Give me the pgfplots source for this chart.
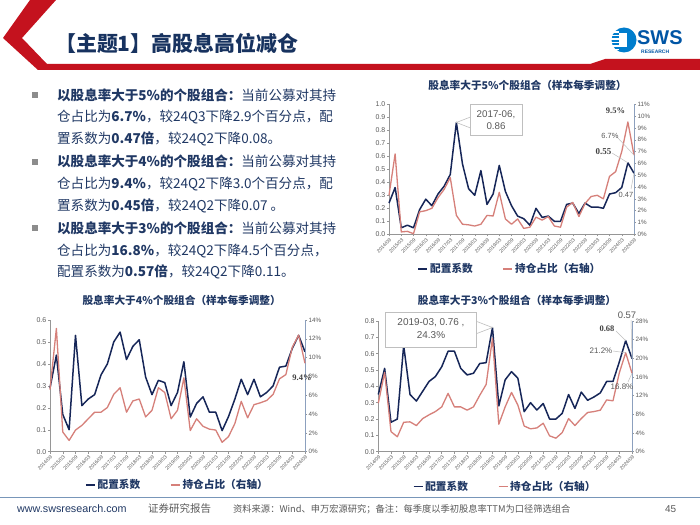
\documentclass[border=0pt]{standalone}
\usepackage{fontspec}
\setmainfont{Liberation Sans}
\newfontfamily\cjk{Noto Sans CJK SC}
\newfontfamily\serifb{Liberation Serif}
\usepackage{pgfplots}
\pgfplotsset{compat=1.18}
\usepackage{pgfplotstable}

\definecolor{swsred}{RGB}{196,18,30}
\definecolor{titlenavy}{RGB}{23,50,95}
\definecolor{textnavy}{RGB}{32,56,100}
\definecolor{navyl}{RGB}{22,38,88}
\definecolor{pinkl}{RGB}{214,128,122}
\definecolor{tickgray}{RGB}{89,89,89}
\definecolor{axgray}{RGB}{150,150,150}
\definecolor{raxgray}{RGB}{140,160,190}
\definecolor{boxgray}{RGB}{191,191,191}
\definecolor{bulletgray}{RGB}{140,140,140}
\definecolor{footline}{RGB}{120,150,185}
\definecolor{logoblue}{RGB}{0,125,205}
\definecolor{logodark}{RGB}{0,85,165}
\definecolor{lblgray}{RGB}{64,64,64}

% i  coef  share(%)
\pgfplotstableread{
i c s
0 0.24 3.3
1 0.36 6.8
2 0.05 0.2
3 0.07 0.25
4 0.05 0.05
5 0.19 1.9
6 0.27 2.0
7 0.22 2.2
8 0.31 3.1
9 0.37 3.8
10 0.46 4.8
11 0.86 1.6
12 0.54 0.85
13 0.35 0.8
14 0.30 0.7
15 0.49 0.85
16 0.23 1.6
17 0.31 1.55
18 0.53 3.55
19 0.33 1.3
20 0.22 0.85
21 0.14 1.3
22 0.12 0.5
23 0.07 0.6
24 0.20 1.45
25 0.13 1.2
26 0.14 1.5
27 0.10 0.7
28 0.10 0.6
29 0.23 2.3
30 0.24 2.7
31 0.16 1.5
32 0.24 2.6
33 0.21 3.2
34 0.21 3.3
35 0.20 3.0
36 0.31 4.9
37 0.32 5.3
38 0.36 7.0
39 0.55 9.5
40 0.47 6.7
}\tA

\pgfplotstableread{
i c s
0 0.29 6.6
1 0.44 13.1
2 0.17 2.1
3 0.10 1.2
4 0.53 2.3
5 0.21 2.8
6 0.24 3.5
7 0.26 4.2
8 0.35 4.2
9 0.40 4.7
10 0.50 6.1
11 0.545 6.8
12 0.42 4.2
13 0.48 5.4
14 0.51 5.6
15 0.34 3.7
16 0.26 4.4
17 0.325 6.8
18 0.315 6.3
19 0.21 3.5
20 0.27 4.4
21 0.41 7.85
22 0.158 2.25
23 0.22 3.5
24 0.25 2.7
25 0.18 2.4
26 0.18 2.3
27 0.096 1.0
28 0.16 1.6
29 0.24 3.0
30 0.33 5.35
31 0.26 3.6
32 0.33 5.0
33 0.25 5.2
34 0.27 5.45
35 0.30 6.1
36 0.385 7.75
37 0.39 8.2
38 0.47 11.1
39 0.53 12.4
40 0.455 9.4
}\tB

\pgfplotstableread{
i c s
0 0.35 10.4
1 0.51 17.0
2 0.18 4.3
3 0.20 3.2
4 0.65 6.3
5 0.35 6.4
6 0.31 5.6
7 0.37 7.1
8 0.43 7.9
9 0.46 8.6
10 0.52 9.6
11 0.615 12.5
12 0.615 9.6
13 0.51 9.6
14 0.47 8.9
15 0.48 9.6
16 0.54 12.1
17 0.545 14.4
18 0.76 24.3
19 0.28 5.9
20 0.44 9.6
21 0.49 12.7
22 0.45 10.0
23 0.245 5.5
24 0.30 4.9
25 0.255 5.1
26 0.295 6.1
27 0.20 3.4
28 0.20 2.9
29 0.235 4.1
30 0.35 7.1
31 0.265 5.6
32 0.365 7.1
33 0.315 8.4
34 0.335 8.6
35 0.36 8.9
36 0.43 11.1
37 0.43 10.9
38 0.55 16.9
39 0.68 21.2
40 0.57 16.8
}\tC

\pgfplotsset{
 /pgf/number format/assume math mode=true,
 base/.style={scale only axis, xmin=0, xmax=40, ymin=0, clip=false,
   axis line style={axgray, line width=0.6bp}, tick style={axgray, line width=0.5bp},
   major tick length=2bp, tick align=outside},
 lax/.style={base, axis x line*=bottom, axis y line*=left,
   xtick={0,2,...,40},
   xticklabels={2014/09,2015/03,2015/09,2016/03,2016/09,2017/03,2017/09,2018/03,2018/09,2019/03,2019/09,2020/03,2020/09,2021/03,2021/09,2022/03,2022/09,2023/03,2023/09,2024/03,2024/09},
   x tick label style={rotate=45, anchor=north east, font=\fontsize{5}{5}\selectfont, text=tickgray, inner sep=0.8bp},
   y tick label style={font=\fontsize{7}{7}\selectfont, text=tickgray, inner sep=1.5bp},
   yticklabel style={/pgf/number format/.cd, fixed, fixed zerofill, precision=1}},
 rax/.style={base, axis x line=none, axis y line*=right,
   axis line style={raxgray},
   y tick label style={font=\fontsize{6.3}{6.3}\selectfont, text=tickgray, inner sep=1.5bp},
   yticklabel={\pgfmathprintnumber[fixed,precision=0]{\tick}\%},
   legend style={anchor=center, draw=none, fill=none, legend columns=2,
     font=\cjk\bfseries\fontsize{10.7}{12}\selectfont, text=textnavy, inner sep=0pt,
     /tikz/every even column/.append style={column sep=28bp}},
   legend image code/.code={\draw[##1] (0bp,0bp) -- (9bp,0bp);}},
 cline/.style={navyl, line width=1.5bp, line join=round},
 sline/.style={pinkl, line width=1.3bp, line join=round},
}

\begin{document}
\begin{tikzpicture}[x=1bp,y=1bp]
\path[use as bounding box, fill=white] (0,0) rectangle (700,-525);

% ---------- header ----------
\fill[swsred] (30,0) -- (3,-38) -- (38,-70) -- (700,-70) -- (700,-59) -- (605,-59) -- (590,-64) -- (47,-64) -- (22,-38) -- (56,0) -- cycle;
\node[anchor=west, font=\cjk\bfseries\fontsize{21}{23}\selectfont, text=titlenavy, inner sep=0pt] at (55,-43) {【主题1】高股息高位减仓};
% logo
\fill[logoblue] (624,-40) circle (12.5);
\foreach \yy in {-32,-35.5,-39,-42.5,-46,-49.5} {\draw[white, line width=1.2bp] (611,\yy) -- (619,\yy);}
\fill[white] (619,-33) rectangle (627,-47);
\node[anchor=west, font=\bfseries\fontsize{20}{20}\selectfont, text=logodark, inner sep=0pt] at (637,-38) {SWS};
\node[anchor=west, font=\bfseries\fontsize{5}{5}\selectfont, text=logodark, inner sep=0pt] at (641,-52) {RESEARCH};

% ---------- bullet text ----------
\foreach \yy in {95,161.7,228.3} {\fill[bulletgray] (32,-\yy+3) rectangle (38,-\yy-3);}
\begin{scope}[every node/.style={anchor=west, inner sep=0pt, font=\cjk\fontsize{13.6}{16}\selectfont, text=textnavy}]
\node at (57,-95) {\textbf{以股息率大于5\%的个股组合：}当前公募对其持};
\node at (57,-117.3) {仓占比为\textbf{6.7\%}，较24Q3下降2.9个百分点，配};
\node at (57,-139.3) {置系数为\textbf{0.47倍}，较24Q2下降0.08。};
\node at (57,-161.7) {\textbf{以股息率大于4\%的个股组合：}当前公募对其持};
\node at (57,-184) {仓占比为\textbf{9.4\%}，较24Q2下降3.0个百分点，配};
\node at (57,-205.5) {置系数为\textbf{0.45倍}，较24Q2下降0.07 。};
\node at (57,-228.3) {\textbf{以股息率大于3\%的个股组合：}当前公募对其持};
\node at (57,-250.7) {仓占比为\textbf{16.8\%}，较24Q2下降4.5个百分点，};
\node at (57,-272) {配置系数为\textbf{0.57倍}，较24Q2下降0.11。};
\end{scope}

% ---------- chart titles ----------
\begin{scope}[every node/.style={inner sep=0pt, font=\cjk\bfseries\fontsize{10.7}{12}\selectfont, text=textnavy}]
\node at (527.5,-85) {股息率大于5\%个股组合（样本每季调整）};
\node at (181.7,-300) {股息率大于4\%个股组合（样本每季调整）};
\node at (517,-300) {股息率大于3\%个股组合（样本每季调整）};
\end{scope}

% ---------- chart 1 : 5% ----------
\begin{axis}[lax, at={(389bp,-234.3bp)}, anchor=south west, width=245bp, height=130bp,
  ymax=1, ytick={0,0.1,0.2,0.3,0.4,0.5,0.6,0.7,0.8,0.9,1.0}]
\addplot[cline] table[x=i,y=c]{\tA};
\coordinate (a11) at (axis cs:11,0.86);
\coordinate (a39) at (axis cs:39,0.55);
\coordinate (a40) at (axis cs:40,0.47);
\end{axis}
\begin{axis}[rax, at={(389bp,-234.3bp)}, anchor=south west, width=245bp, height=130bp,
  ymax=11, ytick={0,1,...,11}, legend style={at={(0.494,-0.267)}}]
\addlegendimage{cline}\addlegendentry{配置系数}
\addplot[sline] table[x=i,y=s]{\tA};\addlegendentry{持仓占比（右轴）}
\coordinate (as39) at (axis cs:39,9.5);
\coordinate (as40) at (axis cs:40,6.7);
\end{axis}

% ---------- chart 2 : 4% ----------
\begin{axis}[lax, at={(50bp,-451.7bp)}, anchor=south west, width=255bp, height=131.7bp,
  ymax=0.6, ytick={0,0.1,0.2,0.3,0.4,0.5,0.6}]
\addplot[cline] table[x=i,y=c]{\tB};
\end{axis}
\begin{axis}[rax, at={(50bp,-451.7bp)}, anchor=south west, width=255bp, height=131.7bp,
  ymax=14, ytick={0,2,...,14}, legend style={at={(0.5,-0.253)}}]
\addlegendimage{cline}\addlegendentry{配置系数}
\addplot[sline] table[x=i,y=s]{\tB};\addlegendentry{持仓占比（右轴）}
\end{axis}

% ---------- chart 3 : 3% ----------
\begin{axis}[lax, at={(378.3bp,-451.7bp)}, anchor=south west, width=253.7bp, height=130.7bp,
  ymax=0.8, ytick={0,0.1,0.2,0.3,0.4,0.5,0.6,0.7,0.8}]
\addplot[cline] table[x=i,y=c]{\tC};
\coordinate (c18) at (axis cs:18,0.76);
\coordinate (c39) at (axis cs:39,0.68);
\coordinate (c40) at (axis cs:40,0.57);
\end{axis}
\begin{axis}[rax, at={(378.3bp,-451.7bp)}, anchor=south west, width=253.7bp, height=130.7bp,
  ymax=28, ytick={0,4,...,28}, legend style={at={(0.5,-0.268)}}]
\addlegendimage{cline}\addlegendentry{配置系数}
\addplot[sline] table[x=i,y=s]{\tC};\addlegendentry{持仓占比（右轴）}
\coordinate (cs39) at (axis cs:39,21.2);
\coordinate (cs40) at (axis cs:40,16.8);
\end{axis}

% ---------- annotations ----------
% chart 1 callout
\filldraw[fill=white, draw=boxgray, line width=0.6bp] (470.5,-117) -- (a11) -- (470.5,-128);
\filldraw[fill=white, draw=boxgray, line width=0.6bp] (470,-104) rectangle (522,-135);
\node[font=\fontsize{9.8}{10}\selectfont, text=tickgray, inner sep=0pt] at (496,-114.5) {2017-06,};
\node[font=\fontsize{9.8}{10}\selectfont, text=tickgray, inner sep=0pt] at (496,-126) {0.86};
\draw[boxgray, line width=0.5bp] (617,-137) -- (as40);
\draw[boxgray, line width=0.5bp] (612,-153) -- (a39);
\draw[boxgray, line width=0.5bp] (631,-189) -- (a40);
\node[font=\serifb\bfseries\fontsize{8.5}{9}\selectfont, text=lblgray, inner sep=0pt] at (615.5,-111) {9.5\%};
\node[font=\fontsize{7.5}{8}\selectfont, text=tickgray, inner sep=0pt] at (610,-136) {6.7\%};
\node[font=\serifb\bfseries\fontsize{9}{9}\selectfont, text=lblgray, inner sep=0pt] at (603.5,-152) {0.55};
\node[font=\fontsize{7.5}{8}\selectfont, text=tickgray, inner sep=0pt] at (626,-195) {0.47};

% chart 2 label
\node[font=\serifb\bfseries\fontsize{8.5}{9}\selectfont, text=lblgray, inner sep=0pt] at (302,-378) {9.4\%};

% chart 3 callout
\filldraw[fill=white, draw=boxgray, line width=0.6bp] (475.5,-321) -- (c18) -- (475.5,-334);
\filldraw[fill=white, draw=boxgray, line width=0.6bp] (385,-312) rectangle (476,-347);
\node[font=\fontsize{10}{10}\selectfont, text=tickgray, inner sep=0pt] at (431,-322.5) {2019-03, 0.76 ,};
\node[font=\fontsize{10}{10}\selectfont, text=tickgray, inner sep=0pt] at (431,-335) {24.3\%};
\draw[boxgray, line width=0.5bp] (631,-320) -- (c40);
\draw[boxgray, line width=0.5bp] (616,-331) -- (c39);
\draw[boxgray, line width=0.5bp] (613,-351) -- (cs39);
\draw[boxgray, line width=0.5bp] (628,-382) -- (cs40);
\node[font=\fontsize{9.5}{10}\selectfont, text=tickgray, inner sep=0pt] at (627,-315) {0.57};
\node[font=\serifb\bfseries\fontsize{8.5}{9}\selectfont, text=lblgray, inner sep=0pt] at (607,-329) {0.68};
\node[font=\fontsize{8}{8}\selectfont, text=tickgray, inner sep=0pt] at (601,-351) {21.2\%};
\node[font=\fontsize{8}{8}\selectfont, text=tickgray, inner sep=0pt] at (622,-387) {16.8\%};

% ---------- footer ----------
\draw[footline, line width=0.8bp] (0,-497) -- (700,-497);
\node[anchor=west, font=\fontsize{10.8}{11}\selectfont, text=textnavy, inner sep=0pt] at (17,-509) {www.swsresearch.com};
\node[anchor=west, font=\cjk\fontsize{10.5}{11}\selectfont, text=tickgray, inner sep=0pt] at (148,-509) {证券研究报告};
\node[anchor=west, font=\cjk\fontsize{9.3}{10}\selectfont, text=tickgray, inner sep=0pt] at (233,-509) {资料来源：Wind、申万宏源研究；备注：每季度以季初股息率TTM为口径筛选组合};
\node[anchor=west, font=\fontsize{10}{10}\selectfont, text=tickgray, inner sep=0pt] at (665,-509) {45};
\end{tikzpicture}
\end{document}
